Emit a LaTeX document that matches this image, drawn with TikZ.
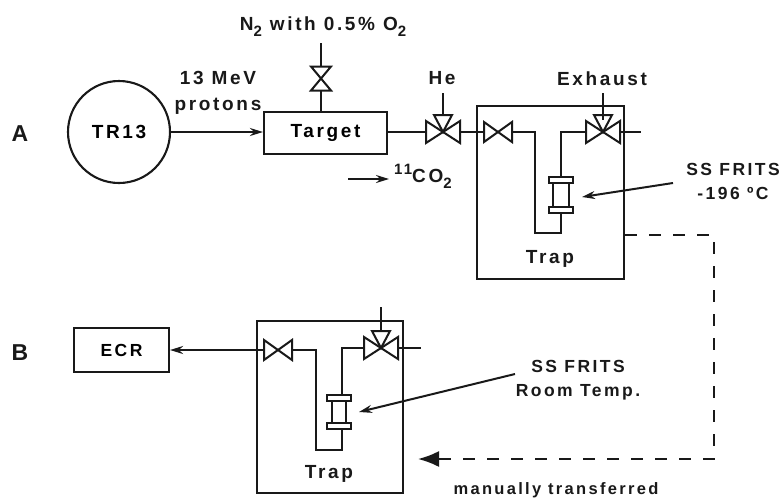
\documentclass[tikz,border=0pt]{standalone}
\usepackage{fontspec}
\setmainfont[LetterSpace=14,Ligatures=NoCommon]{Liberation Sans}
\usetikzlibrary{arrows.meta}
\newcommand{\dnsub}[1]{\raisebox{-6pt}{\fontsize{15}{15}\selectfont #1}}
\newcommand{\upsup}[1]{\raisebox{8pt}{\fontsize{15}{15}\selectfont #1}}
\tikzset{
  pipe/.style={line width=2pt,line join=miter,draw=black!90},
  box/.style={draw=black!90,line width=2.1pt,inner sep=0pt},
  lbl/.style={font=\fontsize{19}{26}\selectfont\bfseries,text=black!90,inner sep=0pt,align=center},
  small/.style={lbl,font=\fontsize{17.5}{24}\selectfont\bfseries},
  arr/.style={pipe,-{Stealth[length=13pt,width=8pt]}},
  bigarr/.style={pipe,-{Latex[length=21pt,width=16pt]}},
  dsh/.style={pipe,dash pattern=on 12pt off 12pt},
}
\begin{document}
\begin{tikzpicture}[x=1pt,y=-1pt]
\useasboundingbox (0,0) rectangle (781,498);
% labels
\node[lbl,font=\fontsize{23}{26}\selectfont\bfseries] (lA) at (20,134) {A};
\node[lbl,font=\fontsize{23}{26}\selectfont\bfseries] (lB) at (20,353) {B};
\node[lbl] (n2) at (323,27) {N\dnsub{2} with 0.5\% O\dnsub{2}};
\node[lbl] (mev) at (218,93) {13 MeV\\protons};
\node[lbl] (lHe) at (442,78) {He};
\node[lbl] (lEx) at (602,79) {Exhaust};
\node[lbl,anchor=west] (lco) at (394,176) {\upsup{11}CO\dnsub{2}};
\node[small] (f1) at (733,181) {SS FRITS\\-196 ºC};
\node[small] (f2) at (578,380) {SS FRITS\\Room Temp.};
\node[lbl,font=\fontsize{16.5}{20}\selectfont\bfseries] (lman) at (556,490) {manually transferred};
% main boxes
\node[circle,draw=black!90,line width=2.1pt,minimum size=102pt,inner sep=0pt,font=\fontsize{19}{20}\selectfont\bfseries] (tr) at (119,132) {TR13};
\node[box,minimum width=123pt,minimum height=42pt,font=\fontsize{19}{20}\selectfont\bfseries] (tg) at (325.5,133) {Target};
\node[box,minimum width=95pt,minimum height=44pt,font=\fontsize{17.5}{20}\selectfont\bfseries] (ecr) at (121.5,350) {ECR};
\node[box,minimum width=147pt,minimum height=173pt] (t1) at (550.5,192.5) {};
\node[box,minimum width=146pt,minimum height=172pt] (t2) at (330,407) {};
\node[lbl] (lt1) at (550,259) {Trap};
\node[lbl] (lt2) at (329,474) {Trap};
% valve centres and junctions
\coordinate (vN) at (321,78.5);
\coordinate (vNtop) at (321,43);
\coordinate (vHe) at (443,132);
\coordinate (vHet) at (443,93);
\coordinate (vHeb) at (443,115);
\coordinate (v2) at (498,132);
\coordinate (v3) at (603,132);
\coordinate (v3t) at (603,93);
\coordinate (v3b) at (603,120);
\coordinate (o1) at (641,132);
\coordinate (a1) at (535,132);
\coordinate (a2) at (535,233);
\coordinate (a3) at (561,233);
\coordinate (a4) at (561,132);
\coordinate (fr1) at (561,194.5);
\coordinate (w2) at (278,350);
\coordinate (w3) at (381,348);
\coordinate (w3t) at (381,307);
\coordinate (w3b) at (381,331);
\coordinate (o2) at (421,348);
\coordinate (b1) at (316,350);
\coordinate (b2) at (316,450);
\coordinate (b3) at (342,450);
\coordinate (b4) at (342,348);
\coordinate (fr2) at (339,412);
% top line
\draw[arr] (tr) -- (tg.west |- tr);
\draw[pipe] (vNtop) -- (vN) -- (vN |- tg.north);
\draw[pipe,fill=white] (vN) -- ++(-10,-12) -- ++(20,0) -- cycle (vN) -- ++(-10,12) -- ++(20,0) -- cycle;
\draw[pipe] (tg.east |- vHe) -- (v2);
\draw[pipe] (v2) -- (a1) -- (a2) -- (a3) -- (a4) -- (v3) -- (o1);
\draw[pipe,fill=white] (vHe) -- ++(17,-11) -- ++(0,22) -- cycle (vHe) -- ++(-17,-11) -- ++(0,22) -- cycle;
\draw[pipe,fill=white] (vHe) -- ++(-9,-17) -- ++(18,0) -- cycle;
\draw[pipe,fill=white] (v2) -- ++(14,-10) -- ++(0,20) -- cycle (v2) -- ++(-14,-10) -- ++(0,20) -- cycle;
\draw[pipe,fill=white] (v3) -- ++(17,-11) -- ++(0,22) -- cycle (v3) -- ++(-17,-11) -- ++(0,22) -- cycle;
\draw[pipe,fill=white] (v3) -- ++(-9,-17) -- ++(18,0) -- cycle;
\draw[pipe] (vHet) -- (vHeb) (v3t) -- (v3b);
\draw[pipe,fill=white] ([shift={(-8,-13)}]fr1) rectangle ([shift={(8,13)}]fr1);
\draw[pipe,fill=white] ([shift={(-12,-18)}]fr1) rectangle ([shift={(12,-12)}]fr1);
\draw[pipe,fill=white] ([shift={(-12,12)}]fr1) rectangle ([shift={(12,18)}]fr1);
% bottom line
\draw[arr] (w2) -- (ecr.east |- w2);
\draw[pipe] (w2) -- (b1) -- (b2) -- (b3) -- (b4) -- (w3) -- (o2);
\draw[pipe,fill=white] (w2) -- ++(14,-10) -- ++(0,20) -- cycle (w2) -- ++(-14,-10) -- ++(0,20) -- cycle;
\draw[pipe,fill=white] (w3) -- ++(17,-11) -- ++(0,22) -- cycle (w3) -- ++(-17,-11) -- ++(0,22) -- cycle;
\draw[pipe,fill=white] (w3) -- ++(-9,-17) -- ++(18,0) -- cycle;
\draw[pipe] (w3t) -- (w3b);
\draw[pipe,fill=white] ([shift={(-7,-13)}]fr2) rectangle ([shift={(7,13)}]fr2);
\draw[pipe,fill=white] ([shift={(-12,-17)}]fr2) rectangle ([shift={(12,-11)}]fr2);
\draw[pipe,fill=white] ([shift={(-12,11)}]fr2) rectangle ([shift={(12,17)}]fr2);
% pointers
\coordinate (co1) at (348,179);
\coordinate (co2) at (389,179);
\draw[arr] (co1) -- (co2);
\coordinate (p1s) at (673,183);
\coordinate (p1e) at (582,197);
\draw[arr] (p1s) -- (p1e);
\coordinate (p2s) at (515,374);
\coordinate (p2e) at (359,412);
\draw[arr] (p2s) -- (p2e);
% dashed transfer
\coordinate (d1) at (714,235);
\coordinate (d2) at (714,459);
\coordinate (d3) at (418,459);
\draw[dsh] (t1.east |- d1) -- (d1) -- (d2) -- (439,459);
\draw[bigarr,dash pattern=on 30pt off 0pt] (441,459) -- (d3);
\end{tikzpicture}
\end{document}
